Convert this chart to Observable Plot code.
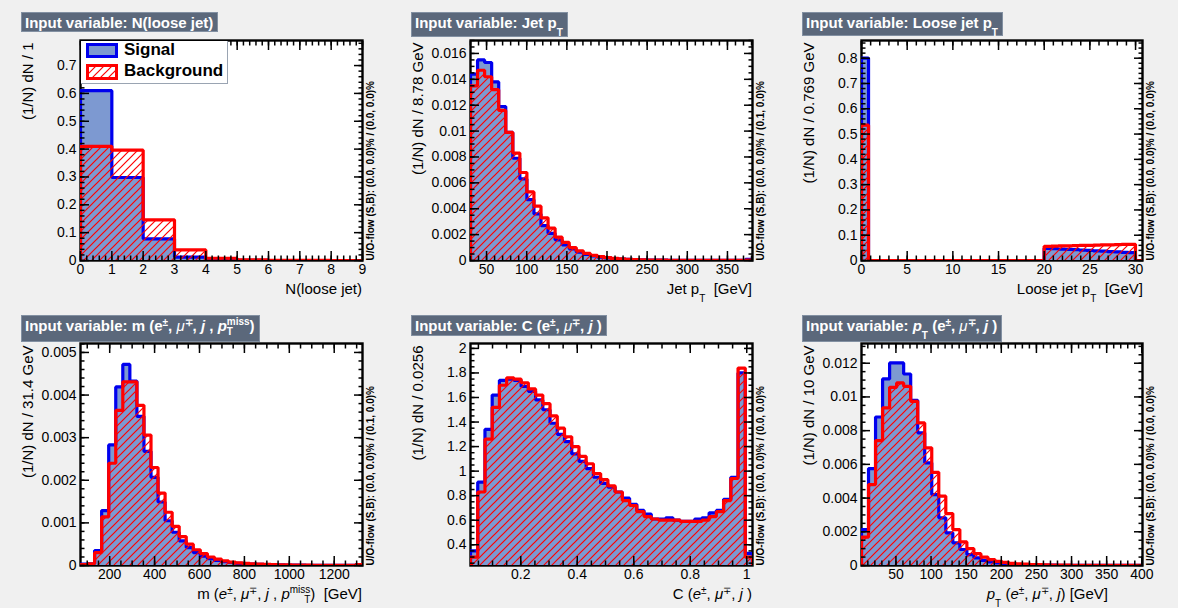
<!DOCTYPE html>
<html>
<head>
<meta charset="utf-8">
<script src="https://cdn.jsdelivr.net/npm/d3@7"></script>
<script src="https://cdn.jsdelivr.net/npm/@observablehq/plot@0.6"></script>
<style>
  html,body{margin:0;padding:0;background:#f0f0f0;}
  #root{position:relative;width:1178px;height:608px;overflow:hidden;background:#f0f0f0;font-family:"Liberation Sans",Arial,Helvetica,sans-serif;color:#000;}
  .title{position:absolute;box-sizing:border-box;background:#5b687b;border:1px solid #8290a2;color:#fff;font-weight:bold;font-size:15px;line-height:17px;padding:1px 4px 0 3px;white-space:nowrap;}
  .xl{position:absolute;font-size:15px;line-height:17px;white-space:nowrap;text-align:right;}
  .sb{font-size:10px;line-height:0;vertical-align:-8px;}
  .sp{font-size:10px;line-height:0;vertical-align:5px;}
  .ss{display:inline-flex;flex-direction:column;vertical-align:middle;font-size:10px;line-height:10px;}
  .mu{font-weight:normal;}
  .legend{position:absolute;box-sizing:border-box;background:#fff;border-right:1px solid #9aa4b2;border-bottom:1px solid #9aa4b2;}
</style>
</head>
<body>
<div id="root">
<svg width="0" height="0" style="position:absolute;left:0;top:0">
  <defs>
    <pattern id="hatch" patternUnits="userSpaceOnUse" width="8" height="8">
      <path d="M-2,2 L2,-2 M0,8 L8,0 M6,10 L10,6" stroke="#ff0000" stroke-width="1.2"/>
    </pattern>
  </defs>
</svg>
</div>
<script>
// ---------------- DATA ----------------
// N(loose jet): 9 bins of width 1 from 0
const nljSig = [0.61, 0.298, 0.078, 0.012, 0.002, 0.0003, 0, 0, 0];
const nljBkg = [0.41, 0.396, 0.146, 0.038, 0.008, 0.002, 0.0005, 0.0001, 0];
const nljXTicks = [0, 1, 2, 3, 4, 5, 6, 7, 8, 9];
const nljYTicks = [0, 0.1, 0.2, 0.3, 0.4, 0.5, 0.6, 0.7];

// Jet pT: 40 bins of 8.78 GeV from 30
const jptSig = [0.0144, 0.0155, 0.0153, 0.0138, 0.0119, 0.0099, 0.0079, 0.0063, 0.0047, 0.0036,
  0.0027, 0.0021, 0.0016, 0.0012, 0.0009, 0.00065, 0.00048, 0.00035, 0.00026, 0.0002,
  0.00015, 0.00011, 0.00008, 0.00006, 0.00005, 0.00004, 0.00003, 0.000025, 0.00002, 0.000016,
  0.000013, 0.00001, 0.000008, 0.000007, 0.000006, 0.000005, 0.000004, 0.000004, 0.000003, 0.00008];
const jptBkg = [0.0135, 0.0147, 0.0142, 0.0132, 0.0116, 0.0099, 0.0083, 0.0068, 0.0053, 0.0042,
  0.0033, 0.0025, 0.0018, 0.0014, 0.0010, 0.00075, 0.00055, 0.0004, 0.0003, 0.00022,
  0.00016, 0.00012, 0.00009, 0.00007, 0.00005, 0.00004, 0.00003, 0.000025, 0.00002, 0.000016,
  0.000013, 0.00001, 0.000008, 0.000007, 0.000006, 0.000005, 0.000004, 0.000004, 0.000003, 0.00003];
const jptXTicks = [50, 100, 150, 200, 250, 300, 350];
const jptYTicks = [0, 0.002, 0.004, 0.006, 0.008, 0.01, 0.012, 0.014, 0.016];

// Loose jet pT: 40 bins of 0.769 GeV from 0
const ljSig = [0.80, 0, 0, 0, 0, 0, 0, 0, 0, 0,
  0, 0, 0, 0, 0, 0, 0, 0, 0, 0,
  0, 0, 0, 0, 0, 0, 0.048, 0.047, 0.045, 0.044,
  0.043, 0.041, 0.040, 0.038, 0.037, 0.035, 0.034, 0.032, 0.031, 0];
const ljBkg = [0.535, 0, 0, 0, 0, 0, 0, 0, 0, 0,
  0, 0, 0, 0, 0, 0, 0, 0, 0, 0,
  0, 0, 0, 0, 0, 0, 0.056, 0.057, 0.058, 0.058,
  0.059, 0.060, 0.060, 0.061, 0.062, 0.062, 0.063, 0.064, 0.064, 0];
const ljXTicks = [0, 5, 10, 15, 20, 25, 30];
const ljYTicks = [0, 0.1, 0.2, 0.3, 0.4, 0.5, 0.6, 0.7, 0.8];

// m(e, mu, j, pTmiss): 40 bins of 31.4 GeV from 70
const mSig = [0.00003, 0.00004, 0.00035, 0.00129, 0.00283, 0.00419, 0.00472, 0.00433, 0.0035, 0.00268,
  0.00207, 0.00149, 0.00105, 0.00078, 0.00058, 0.00042, 0.0003, 0.00022, 0.00016, 0.00012,
  0.00009, 0.00007, 0.00005, 0.00004, 0.00003, 0.000025, 0.00002, 0.000016, 0.000013, 0.00001,
  0.000008, 0.000007, 0.000006, 0.000005, 0.000004, 0.000004, 0.000003, 0.000003, 0.000002, 0.00002];
const mBkg = [0.00002, 0.00004, 0.0003, 0.00114, 0.0024, 0.00364, 0.00431, 0.00431, 0.00376, 0.00306,
  0.0023, 0.0017, 0.00125, 0.00092, 0.00068, 0.0005, 0.00037, 0.00028, 0.0002, 0.00015,
  0.00011, 0.00008, 0.00006, 0.00005, 0.00004, 0.00003, 0.000025, 0.00002, 0.000016, 0.000013,
  0.00001, 0.000008, 0.000007, 0.000006, 0.000005, 0.000004, 0.000004, 0.000003, 0.000003, 0.00002];
const mXTicks = [200, 400, 600, 800, 1000, 1200];
const mYTicks = [0, 0.001, 0.002, 0.003, 0.004, 0.005];

// C(e, mu, j): 39 bins of 0.0256 from 0.022
const cSig = [0.35, 0.91, 1.34, 1.62, 1.74, 1.75, 1.74, 1.69, 1.65, 1.58,
  1.50, 1.39, 1.30, 1.24, 1.14, 1.08, 1.02, 0.95, 0.90, 0.87,
  0.83, 0.78, 0.73, 0.68, 0.65, 0.61, 0.61, 0.62, 0.60, 0.59,
  0.59, 0.61, 0.62, 0.66, 0.68, 0.77, 0.95, 1.80, 0.33];
const cBkg = [0.30, 0.83, 1.26, 1.52, 1.70, 1.76, 1.75, 1.72, 1.67, 1.62,
  1.55, 1.45, 1.35, 1.28, 1.20, 1.12, 1.06, 0.98, 0.93, 0.88,
  0.83, 0.76, 0.72, 0.67, 0.63, 0.61, 0.60, 0.60, 0.60, 0.59,
  0.59, 0.59, 0.60, 0.63, 0.67, 0.76, 0.94, 1.84, 0.30];
const cXTicks = [0.2, 0.4, 0.6, 0.8, 1];
const cYTicks = [0.4, 0.6, 0.8, 1, 1.2, 1.4, 1.6, 1.8, 2];

// pT(e, mu, j): 40 bins of 10 GeV from 1
const ptSig = [0.00213, 0.00575, 0.00881, 0.01107, 0.01202, 0.01202, 0.01136, 0.0098, 0.00787, 0.00609,
  0.00421, 0.00283, 0.00194, 0.00134, 0.00095, 0.00065, 0.00045, 0.0003, 0.00022, 0.00015,
  0.0001, 0.00008, 0.00006, 0.00005, 0.00004, 0.00003, 0.000025, 0.00002, 0.000016, 0.000013,
  0.00001, 0.000008, 0.000007, 0.000006, 0.000005, 0.000004, 0.000004, 0.000003, 0.000003, 0.000002];
const ptBkg = [0.00168, 0.0048, 0.00741, 0.00935, 0.01057, 0.01083, 0.01063, 0.00974, 0.00846, 0.00698,
  0.00553, 0.00411, 0.00308, 0.00213, 0.0014, 0.001, 0.0007, 0.0005, 0.00035, 0.00025,
  0.00018, 0.00013, 0.0001, 0.00008, 0.00006, 0.00005, 0.00004, 0.00003, 0.000025, 0.00002,
  0.000016, 0.000013, 0.00001, 0.000008, 0.000007, 0.000006, 0.000005, 0.000004, 0.000004, 0.000003];
const ptXTicks = [50, 100, 150, 200, 250, 300, 350, 400];
const ptYTicks = [0, 0.002, 0.004, 0.006, 0.008, 0.01, 0.012];

// ---------------- LAYOUT ----------------
const FONT = '"Liberation Sans", Arial, Helvetica, sans-serif';
const ML = 80, MR = 40, MT = 40, MB = 45;
const uo00 = "U/O-flow (S,B): (0.0, 0.0)% / (0.0, 0.0)%";
const uo01 = "U/O-flow (S,B): (0.0, 0.0)% / (0.1, 0.0)%";

const pm = '<span class="sp">±</span>', mp = '<span class="sp">∓</span>';
const panels = [
  {L: 80, R: 362, T: 40, B: 260, xmin: 0, bw: 1, sig: nljSig, bkg: nljBkg, ydom: [0, 0.79],
   xticks: nljXTicks, yticks: nljYTicks, xminor: 0.2, yminor: 0.02,
   ylabel: "(1/N) dN / 1", uo: uo00,
   title: "Input variable: N(loose jet)", tpos: [21, 12, 20],
   xlabel: "N(loose jet)", xlRight: 362},
  {L: 470, R: 752, T: 40, B: 260, xmin: 30, bw: 8.78, sig: jptSig, bkg: jptBkg, ydom: [0, 0.017],
   xticks: jptXTicks, yticks: jptYTicks, xminor: 10, yminor: 0.0005,
   ylabel: "(1/N) dN / 8.78 GeV", uo: uo01,
   title: 'Input variable: Jet p<span class="sb">T</span>', tpos: [411, 12, 25],
   xlabel: 'Jet p<span class="sb">T</span>&nbsp;&nbsp;[GeV]', xlRight: 752},
  {L: 861, R: 1142, T: 40, B: 260, xmin: 0, bw: 0.769, sig: ljSig, bkg: ljBkg, ydom: [0, 0.87],
   xticks: ljXTicks, yticks: ljYTicks, xminor: 1, yminor: 0.02,
   ylabel: "(1/N) dN / 0.769 GeV", uo: uo00,
   title: 'Input variable: Loose jet p<span class="sb">T</span>', tpos: [802, 12, 24],
   xlabel: 'Loose jet p<span class="sb">T</span>&nbsp;&nbsp;[GeV]', xlRight: 1143},
  {L: 80, R: 362, T: 343, B: 565, xmin: 70, bw: 31.4, sig: mSig, bkg: mBkg, ydom: [0, 0.00521],
   xticks: mXTicks, yticks: mYTicks, xminor: 50, yminor: 0.0002,
   ylabel: "(1/N) dN / 31.4 GeV", uo: uo01,
   title: 'Input variable: m (e' + pm + ', <i class="mu">μ</i>' + mp + ', <i>j</i> , <i>p</i><span class="ss"><span>miss</span><span>T</span></span>)', tpos: [21, 315, 27],
   xlabel: 'm (<i>e</i>' + pm + ', <i>μ</i>' + mp + ', <i>j</i> , <i>p</i><span class="ss"><span>miss</span><span>T</span></span>)&nbsp; [GeV]', xlRight: 362},
  {L: 470, R: 752, T: 343, B: 565, xmin: 0.022, bw: 0.0256, sig: cSig, bkg: cBkg, ydom: [0.231, 2.04],
   xticks: cXTicks, yticks: cYTicks, xminor: 0.05, yminor: 0.05,
   ylabel: "(1/N) dN / 0.0256", uo: uo00,
   title: 'Input variable: C (e' + pm + ', <i class="mu">μ</i>' + mp + ', <i>j</i> )', tpos: [411, 315, 21],
   xlabel: 'C (<i>e</i>' + pm + ', <i>μ</i>' + mp + ', <i>j</i> )', xlRight: 752},
  {L: 861, R: 1142, T: 343, B: 565, xmin: 1, bw: 10, sig: ptSig, bkg: ptBkg, ydom: [0, 0.01317],
   xticks: ptXTicks, yticks: ptYTicks, xminor: 10, yminor: 0.0005,
   ylabel: "(1/N) dN / 10 GeV", uo: uo00,
   title: 'Input variable: <i>p</i><span class="sb">T</span> (e' + pm + ', <i class="mu">μ</i>' + mp + ', <i>j</i> )', tpos: [802, 315, 27],
   xlabel: '<i>p</i><span class="sb">T</span> (<i>e</i>' + pm + ', <i>μ</i>' + mp + ', <i>j</i>) [GeV]', xlRight: 1108}
];

const root = document.getElementById("root");

function minorTicks(dom, step) {
  const a = Math.ceil(dom[0] / step - 1e-6), b = Math.floor(dom[1] / step + 1e-6);
  return d3.range(a, b + 1).map(k => +(k * step).toFixed(10));
}

function drawPanel(p) {
  const n = p.sig.length;
  const x0 = p.xmin, bw = p.bw, x1 = x0 + n * p.bw;
  const xdom = [x0, x1];
  const steps = vals => vals.map((v, i) => ({x: x0 + i * bw, y: v})).concat([{x: x1, y: vals[n - 1]}]);
  const outline = vals => [{x: x0, y: 0}].concat(steps(vals), [{x: x1, y: 0}]);
  const xMinor = minorTicks(xdom, p.xminor), yMinor = minorTicks(p.ydom, p.yminor);
  const W = (p.R - p.L) + ML + MR, H = (p.B - p.T) + MT + MB;
  const tk = {stroke: "black", strokeWidth: 1.5, fill: "none", label: null};
  const lineOpts = {x: "x", y: "y", curve: "step-after", strokeWidth: 3.2, strokeLinejoin: "miter", strokeLinecap: "square", clip: true};
  const svg = Plot.plot({
    width: W, height: H,
    marginLeft: ML, marginRight: MR, marginTop: MT, marginBottom: MB,
    x: {domain: xdom},
    y: {domain: p.ydom},
    style: {fontFamily: FONT, fontSize: "14px", color: "black", background: "transparent", overflow: "visible"},
    marks: [
      Plot.frame({fill: "white", stroke: "black", strokeWidth: 2.4}),
      Plot.areaY(steps(p.sig), {x: "x", y: "y", curve: "step-after", fill: "#7d99d1", clip: true}),
      Plot.lineY(outline(p.sig), {...lineOpts, stroke: "#0000ee"}),
      Plot.areaY(steps(p.bkg), {x: "x", y: "y", curve: "step-after", fill: "url(#hatch)", clip: true}),
      Plot.lineY(outline(p.bkg), {...lineOpts, stroke: "#ff0000"}),
      Plot.axisX(p.xticks, {anchor: "bottom", tickSize: -9, ...tk}),
      Plot.axisX(p.xticks, {anchor: "top", tickSize: -9, ...tk}),
      Plot.axisX(xMinor, {anchor: "bottom", tickSize: -4.5, ...tk}),
      Plot.axisX(xMinor, {anchor: "top", tickSize: -4.5, ...tk}),
      Plot.axisY(p.yticks, {anchor: "left", tickSize: -9, ...tk}),
      Plot.axisY(p.yticks, {anchor: "right", tickSize: -9, ...tk}),
      Plot.axisY(yMinor, {anchor: "left", tickSize: -4.5, ...tk}),
      Plot.axisY(yMinor, {anchor: "right", tickSize: -4.5, ...tk}),
      Plot.axisX(p.xticks, {anchor: "bottom", tickSize: 0, tickPadding: 4, label: null, tickFormat: String, fill: "black"}),
      Plot.axisY(p.yticks, {anchor: "left", tickSize: 0, tickPadding: 4, label: null, tickFormat: String, fill: "black"}),
      Plot.text([p.ylabel], {frameAnchor: "top-left", text: d => d, rotate: -90, textAnchor: "end", dx: -58, dy: 2, fontSize: 15, fill: "black"}),
      Plot.text([p.uo], {frameAnchor: "bottom-right", text: d => d, rotate: -90, textAnchor: "start", dx: 11, fontSize: 10, fontWeight: "bold", fill: "black"})
    ]
  });
  svg.style.position = "absolute";
  svg.style.left = (p.L - ML) + "px";
  svg.style.top = (p.T - MT) + "px";
  svg.style.maxWidth = "none";
  root.appendChild(svg);
}

panels.forEach(drawPanel);

// titles and axis titles (rich text)
panels.forEach(p => {
  const t = document.createElement("div");
  t.className = "title";
  t.style.left = p.tpos[0] + "px";
  t.style.top = p.tpos[1] + "px";
  t.style.height = p.tpos[2] + "px";
  t.innerHTML = p.title;
  root.appendChild(t);

  const x = document.createElement("div");
  x.className = "xl";
  x.style.right = (1178 - p.xlRight) + "px";
  x.style.top = (p.B + 34 - 14) + "px";
  x.innerHTML = p.xlabel;
  root.appendChild(x);
});

// legend (inside first panel)
const lg = document.createElement("div");
lg.className = "legend";
lg.style.left = "81px"; lg.style.top = "41px"; lg.style.width = "147px"; lg.style.height = "43px";
lg.innerHTML = `<svg width="146" height="42" style="display:block;font-family:${FONT.replace(/"/g, "'")}">
  <rect x="6.5" y="3.5" width="29" height="12" fill="#7d99d1" stroke="#0000ee" stroke-width="3"/>
  <rect x="6.5" y="24.5" width="29" height="13" fill="url(#hatch)" stroke="#ff0000" stroke-width="3"/>
  <text x="43" y="14" font-size="17" font-weight="bold">Signal</text>
  <text x="43" y="35" font-size="17" font-weight="bold">Background</text>
</svg>`;
root.appendChild(lg);
</script>
</body>
</html>
